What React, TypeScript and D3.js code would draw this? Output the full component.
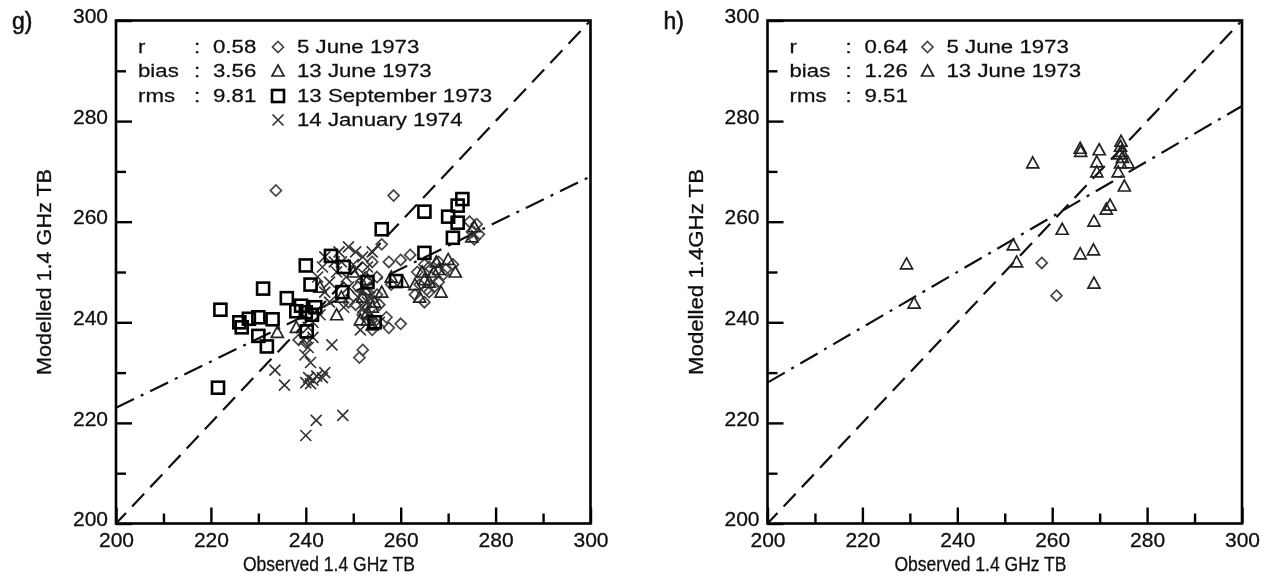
import React, { useEffect, useRef } from "react";
import * as d3 from "d3";

type Pt = [number, number];

const majorTicks = [200, 220, 240, 260, 280, 300];
const minorTicks = [210, 230, 250, 270, 290];

// panel g
const gDiamonds: Pt[] = [
  [233.7, 266.2], [258.5, 265.2], [252, 234.5], [251.3, 233], [257.5, 238.9], [260, 239.7], [240, 236], [238.5, 236.5],
  [260, 252.4], [262, 253.4], [263.5, 250], [265, 251.5], [266.5, 249], [268, 252], [269.5, 250.5], [271, 251.5],
  [264, 247.5], [266, 246], [268, 248], [265, 244], [254, 252], [256, 255.5], [257.5, 252], [255, 249], [258, 247.5],
  [251, 247], [249, 244], [252.5, 243], [255.5, 243.5], [257, 241], [254, 240.5], [275, 258], [276, 259.5], [276.5, 257.5],
  [274.5, 260], [275.5, 256.5], [266, 251], [267, 247], [269, 249.5], [263, 245.5], [265.5, 246.5], [253, 246], [252, 241.5],
  [254, 238.5], [255, 245.5], [250.5, 243.5],
];
const gTriangles: Pt[] = [
  [246.5, 241.5], [252, 245], [253, 242], [254, 239.5], [250, 250], [256, 246], [254.5, 244], [251.5, 240.5],
  [263, 247.5], [265, 248.5], [267, 250], [264, 245], [267.5, 252], [270, 252.5], [271.5, 250], [268.5, 246],
  [275.5, 259], [275, 257], [247.5, 245], [243, 247], [258, 249], [260.5, 248], [238, 239], [234, 238],
  [253, 248.5], [252.5, 246.5], [254, 243], [253, 240.5], [266, 248], [268, 250.5], [264.5, 250],
];
const gSquares: Pt[] = [
  [221.5, 227], [222, 242.5], [226, 240], [226.5, 239], [228, 240.7], [230, 241], [230, 237.3], [231, 246.7],
  [231.8, 235.2], [233, 240.6], [236, 244.8], [238, 242.2], [239, 243.3], [240, 242], [240.2, 238.2], [240, 251.3],
  [241, 247.5], [242, 243], [241.3, 241.5], [245.3, 253.2], [247.7, 246], [248, 251], [253, 248], [254.5, 240],
  [256, 258.5], [259, 248.2], [265, 262], [265, 253.8], [270, 261], [271, 256.8], [272, 263.2], [272, 259.8], [273, 264.5],
];
const gCrosses: Pt[] = [
  [233.5, 230.5], [235.5, 227.5], [240, 217.5], [242.2, 220.5], [247.8, 221.5], [240, 228], [240.6, 229], [241.5, 228.5],
  [242.3, 229.3], [243.5, 229], [244, 230], [241, 227.8], [245.5, 235.5], [240.5, 235], [239.5, 236.5], [241.5, 237],
  [242.5, 249], [243.5, 251], [245, 248], [246, 252], [247, 254], [249, 255], [250.5, 254], [252, 253], [244, 246],
  [246.5, 250], [248.5, 249], [250, 251.5], [251.5, 249], [253, 251], [254, 254], [252.5, 247], [253.5, 245], [252, 243],
  [253.5, 241.5], [251.5, 238.5], [255.5, 240], [243, 241.5], [245, 244], [241.5, 240], [248, 243], [247.5, 252], [249, 247],
  [244, 253], [251, 245], [253, 244], [252.3, 249.5], [240.5, 239], [239.8, 233.5], [241, 232],
];

// panel h
const hDiamonds: Pt[] = [[257.8, 251.8], [260.9, 245.3]];
const hTriangles: Pt[] = [
  [255.9, 271.7], [265.9, 274.6], [269.9, 274.3], [269.4, 271.9], [269.4, 269.9], [274.5, 276], [274.4, 275], [274.6, 274],
  [274.2, 273.5], [274.8, 272.8], [274.4, 271.7], [276, 271.7], [273.9, 269.9], [275.2, 267.1], [272.2, 263.3], [271.4, 262.5],
  [268.8, 260.1], [262.1, 258.5], [251.8, 255.4], [252.5, 252], [265.9, 253.6], [268.7, 254.4], [268.8, 247.8], [229.3, 251.6],
  [230.9, 243.8], [266, 274],
];

// regression lines as [y at 200, y at 300]
const gFit: Pt = [223, 269];
const hFit: Pt = [228, 283];

const gStats = [["r", "0.58"], ["bias", "3.56"], ["rms", "9.81"]];
const hStats = [["r", "0.64"], ["bias", "1.26"], ["rms", "9.51"]];
const gLegend = ["5 June 1973", "13 June 1973", "13 September 1973", "14 January 1974"];
const hLegend = ["5 June 1973", "13 June 1973"];
const symbolKinds = ["diamond", "triangle", "square", "cross"];

const FONT = "'Liberation Sans', Arial, sans-serif";

const drawSymbol = (g: any, kind: string, px: number, py: number) => {
  if (kind === "diamond") {
    g.append("path").attr("d", `M${px},${py - 5.5}L${px + 5.5},${py}L${px},${py + 5.5}L${px - 5.5},${py}Z`)
      .attr("fill", "none").attr("stroke", "#444").attr("stroke-width", 1.7);
  } else if (kind === "triangle") {
    g.append("path").attr("d", `M${px},${py - 6}L${px + 6},${py + 5}L${px - 6},${py + 5}Z`)
      .attr("fill", "none").attr("stroke", "#222").attr("stroke-width", 1.7);
  } else if (kind === "square") {
    g.append("rect").attr("x", px - 6).attr("y", py - 6).attr("width", 12).attr("height", 12)
      .attr("fill", "none").attr("stroke", "#000").attr("stroke-width", 2.6);
  } else {
    g.append("path").attr("d", `M${px - 5.5},${py - 5.5}L${px + 5.5},${py + 5.5}M${px - 5.5},${py + 5.5}L${px + 5.5},${py - 5.5}`)
      .attr("fill", "none").attr("stroke", "#333").attr("stroke-width", 1.6);
  }
};

const drawPanel = (root: any, o: any) => {
  const x = d3.scaleLinear().domain([200, 300]).range([o.left, o.left + 474.5]);
  const y = d3.scaleLinear().domain([200, 300]).range([523.5, 20.5]);
  const g = root.append("g");

  // ticks first, the frame goes over them
  const styleAxis = (a: any) => {
    a.select(".domain").remove();
    a.selectAll(".tick line").attr("stroke", "#000").attr("stroke-width", 2.4);
    a.selectAll("text").attr("font-family", FONT).attr("font-size", 21).attr("fill", "#111")
      .attr("stroke", "#111").attr("stroke-width", 0.3);
  };
  g.append("g").attr("transform", "translate(0,523.5)")
    .call(d3.axisBottom(x).tickValues(majorTicks).tickSizeInner(-16).tickSizeOuter(0).tickPadding(9))
    .call(styleAxis);
  g.append("g").attr("transform", "translate(0,523.5)")
    .call(d3.axisBottom(x).tickValues(minorTicks).tickSizeInner(-10).tickSizeOuter(0).tickFormat(() => ""))
    .call(styleAxis);
  const yAxis = g.append("g").attr("transform", `translate(${o.left},0)`)
    .call(d3.axisLeft(y).tickValues(majorTicks).tickSizeInner(-16).tickSizeOuter(0).tickPadding(8))
    .call(styleAxis);
  yAxis.selectAll("text").attr("dy", "0.1em");
  g.append("g").attr("transform", `translate(${o.left},0)`)
    .call(d3.axisLeft(y).tickValues(minorTicks).tickSizeInner(-10).tickSizeOuter(0).tickFormat(() => ""))
    .call(styleAxis);

  g.append("rect").attr("x", x(200)).attr("y", y(300)).attr("width", x(300) - x(200)).attr("height", y(200) - y(300))
    .attr("fill", "none").attr("stroke", "#000").attr("stroke-width", 2.6);

  const line = d3.line<Pt>().x((d) => x(d[0])).y((d) => y(d[1]));
  g.append("path").attr("d", line([[200, 200], [300, 300]])).attr("fill", "none")
    .attr("stroke", "#111").attr("stroke-width", 2.2).attr("stroke-dasharray", "17.5 9").attr("stroke-dashoffset", 3);
  g.append("path").attr("d", line([[200, o.fit[0]], [300, o.fit[1]]])).attr("fill", "none")
    .attr("stroke", "#111").attr("stroke-width", 2.2).attr("stroke-dasharray", "20 7.5 3 7.5");

  o.series.forEach((s: any) => {
    s.data.forEach((d: Pt) => drawSymbol(g, s.kind, x(d[0]), y(d[1])));
  });

  // the source text is stretched sideways
  const label = (t: string, tx: number, ty: number) =>
    g.append("text").attr("transform", `translate(${tx},${ty}) scale(1.27,1)`).attr("font-family", FONT)
      .attr("font-size", 17.5).attr("fill", "#111").attr("stroke", "#111").attr("stroke-width", 0.25).text(t);

  g.append("text").attr("x", o.left - 104).attr("y", 29).attr("font-family", FONT).attr("font-size", 23)
    .attr("fill", "#111").attr("stroke", "#111").attr("stroke-width", 0.5).text(o.tag);
  g.append("text").attr("x", o.left + 213).attr("y", 571).attr("font-family", FONT).attr("font-size", 20.5)
    .attr("text-anchor", "middle").attr("textLength", 172).attr("lengthAdjust", "spacingAndGlyphs")
    .attr("fill", "#111").attr("stroke", "#111").attr("stroke-width", 0.3).text("Observed 1.4 GHz TB");
  g.append("text").attr("transform", `translate(${o.left - 65},272) rotate(-90)`)
    .attr("font-family", FONT).attr("font-size", 20).attr("text-anchor", "middle")
    .attr("textLength", 206).attr("lengthAdjust", "spacingAndGlyphs")
    .attr("fill", "#111").attr("stroke", "#111").attr("stroke-width", 0.3).text(o.ylabel);

  const rows = [47, 71, 96, 120];
  o.stats.forEach((s: string[], i: number) => {
    label(s[0], o.left + 22, rows[i] + 6);
    label(":", o.left + 78, rows[i] + 6);
    label(s[1], o.left + 97, rows[i] + 6);
  });
  o.legend.forEach((t: string, i: number) => {
    drawSymbol(g, symbolKinds[i], o.left + o.symX, rows[i]);
    label(t, o.left + o.symX + 19, rows[i] + 6);
  });
};

export default function App() {
  const svgRef = useRef<SVGSVGElement>(null);

  useEffect(() => {
    const svg = d3.select(svgRef.current);
    svg.selectAll("*").remove();
    svg.append("defs").append("filter").attr("id", "soft").append("feGaussianBlur").attr("stdDeviation", 0.7);
    const root = svg.append("g").attr("filter", "url(#soft)");
    root.append("rect").attr("width", 1264).attr("height", 577).attr("fill", "#fff");

    drawPanel(root, {
      left: 116, tag: "g)", ylabel: "Modelled 1.4 GHz TB", fit: gFit, stats: gStats, legend: gLegend, symX: 162,
      series: [
        { kind: "diamond", data: gDiamonds },
        { kind: "triangle", data: gTriangles },
        { kind: "cross", data: gCrosses },
        { kind: "square", data: gSquares },
      ],
    });
    drawPanel(root, {
      left: 767.5, tag: "h)", ylabel: "Modelled 1.4GHz TB", fit: hFit, stats: hStats, legend: hLegend, symX: 160,
      series: [
        { kind: "diamond", data: hDiamonds },
        { kind: "triangle", data: hTriangles },
      ],
    });
  }, []);

  return (
    <svg ref={svgRef} width={1264} height={577} style={{ position: "absolute", left: 0, top: 0, display: "block" }} />
  );
}
